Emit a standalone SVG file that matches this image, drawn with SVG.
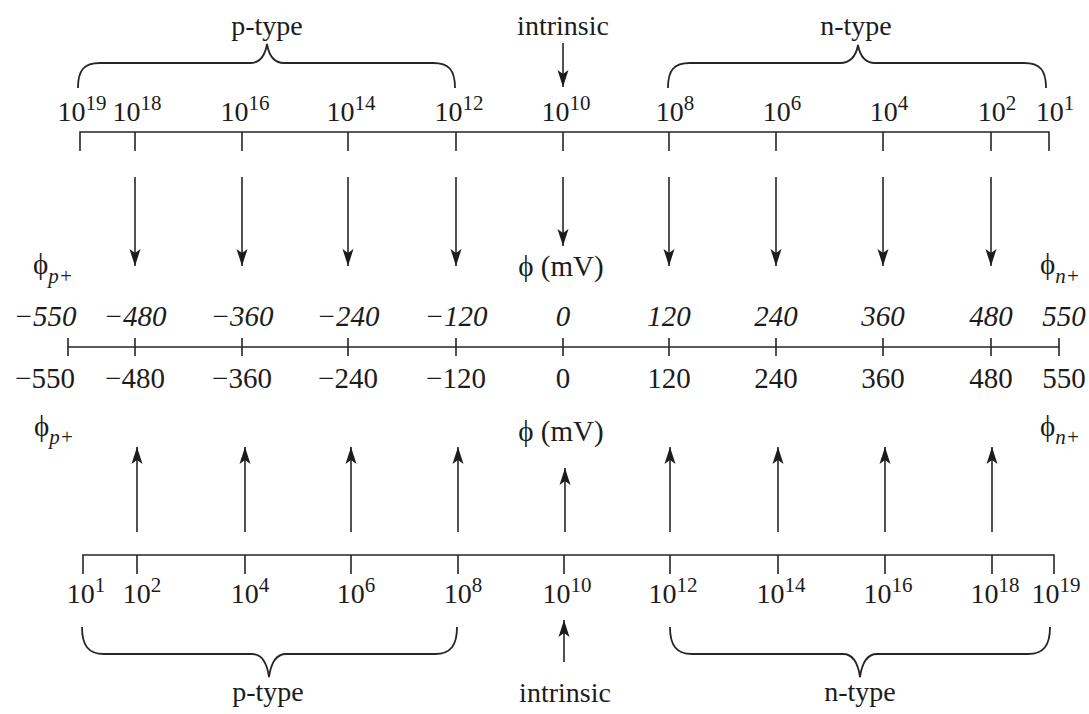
<svg xmlns="http://www.w3.org/2000/svg" width="1089" height="714" viewBox="0 0 1089 714">
<defs>
<style>
text{font-family:"Liberation Serif","Times New Roman",serif;fill:#1c1c1c;font-size:29px}
.lbl{font-size:28px;text-anchor:middle}
.sup{font-size:21px}
.num{text-anchor:middle}
.it{font-style:italic;fill:#333333}
.sub{font-style:italic;font-size:21px}
.ax{stroke:#262626;stroke-width:1.6;fill:none}
.br{stroke:#262626;stroke-width:1.8;fill:none}
.arr{stroke:#262626;stroke-width:1.6;fill:none}
</style>
<marker id="ah" markerUnits="userSpaceOnUse" markerWidth="18" markerHeight="12" refX="17" refY="6" orient="auto" viewBox="0 0 18 12">
<path d="M0,0.5 L17,6 L0,11.5 L4,6 Z" fill="#1c1c1c"/>
</marker>
</defs>
<rect width="1089" height="714" fill="#ffffff"/>

<g id="top-braces">
<path class="br" d="M78,88 C78,70 84,63 100,63 L250,63 C260,63 265,56 267,44 C269,56 274,63 284,63 L433,63 C449,63 455,70 455,88"/>
<path class="br" d="M668,88 C668,70 674,63 690,63 L840,63 C850,63 856,56 858,45 C860,56 865,63 875,63 L1024,63 C1040,63 1046,70 1046,88"/>
<text class="lbl" x="267" y="35" font-size="29">p-type</text>
<text class="lbl" x="563" y="35" font-size="29">intrinsic</text>
<text class="lbl" x="856" y="35" font-size="29">n-type</text>
</g>

<g id="top-scale">
<path class="ax" d="M80,151 L80,132 L1049,132 L1049,151 M135,132 V151 M242,132 V151 M348,132 V151 M456,132 V151 M563,132 V151 M669,132 V151 M776,132 V151 M883,132 V151 M991,132 V151"/>
<text class="lbl" x="82" y="121">10<tspan class="sup" dy="-11">19</tspan></text>
<text class="lbl" x="137" y="121">10<tspan class="sup" dy="-11">18</tspan></text>
<text class="lbl" x="245" y="121">10<tspan class="sup" dy="-11">16</tspan></text>
<text class="lbl" x="351" y="121">10<tspan class="sup" dy="-11">14</tspan></text>
<text class="lbl" x="459" y="121">10<tspan class="sup" dy="-11">12</tspan></text>
<text class="lbl" x="566" y="121">10<tspan class="sup" dy="-11">10</tspan></text>
<text class="lbl" x="675" y="121">10<tspan class="sup" dy="-11">8</tspan></text>
<text class="lbl" x="782" y="121">10<tspan class="sup" dy="-11">6</tspan></text>
<text class="lbl" x="889" y="121">10<tspan class="sup" dy="-11">4</tspan></text>
<text class="lbl" x="997" y="121">10<tspan class="sup" dy="-11">2</tspan></text>
<text class="lbl" x="1055" y="121">10<tspan class="sup" dy="-11">1</tspan></text>
</g>

<g id="middle-scale">
<text x="33" y="274">ϕ<tspan class="sub" dy="9">p+</tspan></text>
<text class="num" x="561" y="276">ϕ (mV)</text>
<text x="1040" y="274">ϕ<tspan class="sub" dy="9">n+</tspan></text>
<g class="it">
<text class="num" x="45" y="326">−550</text>
<text class="num" x="135" y="326">−480</text>
<text class="num" x="242" y="326">−360</text>
<text class="num" x="348" y="326">−240</text>
<text class="num" x="456" y="326">−120</text>
<text class="num" x="563" y="326">0</text>
<text class="num" x="669" y="326">120</text>
<text class="num" x="776" y="326">240</text>
<text class="num" x="883" y="326">360</text>
<text class="num" x="991" y="326">480</text>
<text class="num" x="1064" y="326">550</text>
</g>
<path class="ax" d="M68,347 L1059,347 M68,338 V356 M135,338 V356 M242,338 V356 M348,338 V356 M456,338 V356 M563,338 V356 M669,338 V356 M776,338 V356 M883,338 V356 M991,338 V356 M1059,338 V356"/>
<text class="num" x="45" y="388">−550</text>
<text class="num" x="135" y="388">−480</text>
<text class="num" x="242" y="388">−360</text>
<text class="num" x="348" y="388">−240</text>
<text class="num" x="456" y="388">−120</text>
<text class="num" x="563" y="388">0</text>
<text class="num" x="669" y="388">120</text>
<text class="num" x="776" y="388">240</text>
<text class="num" x="883" y="388">360</text>
<text class="num" x="991" y="388">480</text>
<text class="num" x="1064" y="388">550</text>
<text x="34" y="436">ϕ<tspan class="sub" dy="8">p+</tspan></text>
<text class="num" x="561" y="441">ϕ (mV)</text>
<text x="1040" y="436">ϕ<tspan class="sub" dy="8">n+</tspan></text>
</g>

<g id="bottom-scale">
<path class="ax" d="M83,574 L83,555 L1054,555 L1054,574 M137,555 V574 M245,555 V574 M351,555 V574 M458,555 V574 M564,555 V574 M670,555 V574 M778,555 V574 M885,555 V574 M992,555 V574"/>
<text class="lbl" x="86" y="603">10<tspan class="sup" dy="-11">1</tspan></text>
<text class="lbl" x="142" y="603">10<tspan class="sup" dy="-11">2</tspan></text>
<text class="lbl" x="250" y="603">10<tspan class="sup" dy="-11">4</tspan></text>
<text class="lbl" x="356" y="603">10<tspan class="sup" dy="-11">6</tspan></text>
<text class="lbl" x="463" y="603">10<tspan class="sup" dy="-11">8</tspan></text>
<text class="lbl" x="567" y="603">10<tspan class="sup" dy="-11">10</tspan></text>
<text class="lbl" x="673" y="603">10<tspan class="sup" dy="-11">12</tspan></text>
<text class="lbl" x="781" y="603">10<tspan class="sup" dy="-11">14</tspan></text>
<text class="lbl" x="888" y="603">10<tspan class="sup" dy="-11">16</tspan></text>
<text class="lbl" x="995" y="603">10<tspan class="sup" dy="-11">18</tspan></text>
<text class="lbl" x="1056" y="603">10<tspan class="sup" dy="-11">19</tspan></text>
</g>

<g id="bottom-braces">
<path class="br" d="M82,627 C82,645 88,654 104,654 L252,654 C262,654 267,663 269,677 C271,663 276,654 286,654 L435,654 C451,654 457,645 457,627"/>
<path class="br" d="M670,627 C670,645 676,654 692,654 L843,654 C853,654 858,663 860,677 C862,663 867,654 877,654 L1028,654 C1044,654 1050,645 1050,627"/>
<text class="lbl" x="268" y="701" font-size="29">p-type</text>
<text class="lbl" x="565" y="702" font-size="29">intrinsic</text>
<text class="lbl" x="860" y="701" font-size="29">n-type</text>
</g>

<g id="connectors">
<line class="arr" x1="563" y1="43" x2="563" y2="87" marker-end="url(#ah)"/>
<line class="arr" x1="135" y1="177" x2="135" y2="266" marker-end="url(#ah)"/>
<line class="arr" x1="242" y1="177" x2="242" y2="266" marker-end="url(#ah)"/>
<line class="arr" x1="348" y1="177" x2="348" y2="266" marker-end="url(#ah)"/>
<line class="arr" x1="456" y1="177" x2="456" y2="266" marker-end="url(#ah)"/>
<line class="arr" x1="563" y1="177" x2="563" y2="246" marker-end="url(#ah)"/>
<line class="arr" x1="669" y1="177" x2="669" y2="266" marker-end="url(#ah)"/>
<line class="arr" x1="776" y1="177" x2="776" y2="266" marker-end="url(#ah)"/>
<line class="arr" x1="883" y1="177" x2="883" y2="266" marker-end="url(#ah)"/>
<line class="arr" x1="991" y1="177" x2="991" y2="266" marker-end="url(#ah)"/>
<line class="arr" x1="137" y1="532" x2="137" y2="447" marker-end="url(#ah)"/>
<line class="arr" x1="245" y1="532" x2="245" y2="447" marker-end="url(#ah)"/>
<line class="arr" x1="351" y1="532" x2="351" y2="447" marker-end="url(#ah)"/>
<line class="arr" x1="458" y1="532" x2="458" y2="447" marker-end="url(#ah)"/>
<line class="arr" x1="565" y1="532" x2="565" y2="468" marker-end="url(#ah)"/>
<line class="arr" x1="670" y1="532" x2="670" y2="447" marker-end="url(#ah)"/>
<line class="arr" x1="778" y1="532" x2="778" y2="447" marker-end="url(#ah)"/>
<line class="arr" x1="885" y1="532" x2="885" y2="447" marker-end="url(#ah)"/>
<line class="arr" x1="992" y1="532" x2="992" y2="447" marker-end="url(#ah)"/>
<line class="arr" x1="564" y1="662" x2="564" y2="620" marker-end="url(#ah)"/>
</g>
</svg>
